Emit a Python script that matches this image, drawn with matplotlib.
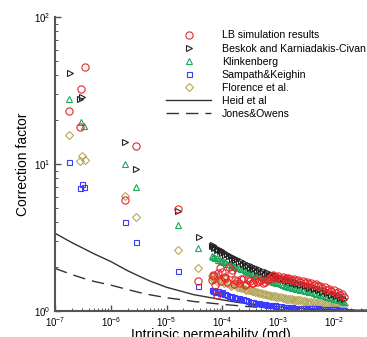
import matplotlib
matplotlib.use("Agg")
import matplotlib.pyplot as plt

plt.rcParams['font.family'] = ['Liberation Sans', 'DejaVu Sans']
plt.rcParams['mathtext.fontset'] = 'custom'
plt.rcParams['mathtext.rm'] = 'Liberation Sans'
plt.rcParams['mathtext.it'] = 'Liberation Sans:italic'

# ---------------- data ----------------
# dense region permeabilities (md), two interleaved sets
x_dense = [6.5e-5, 7e-5, 8e-5, 9e-5, 1.0e-4, 1.1e-4, 1.3e-4, 1.5e-4, 1.7e-4, 2.0e-4,
           2.3e-4, 2.7e-4, 3.1e-4, 3.6e-4, 4.2e-4, 5.0e-4, 5.8e-4, 6.8e-4, 8.0e-4, 9.3e-4,
           1.1e-3, 1.3e-3, 1.5e-3, 1.8e-3, 2.1e-3, 2.5e-3, 3.0e-3, 3.6e-3, 4.3e-3, 5.2e-3,
           6.2e-3, 7.5e-3, 9.0e-3, 1.1e-2, 1.3e-2, 1.5e-2]
x_dense2 = [6.7e-5, 7.5e-5, 8.5e-5, 9.5e-5, 1.05e-4, 1.2e-4, 1.4e-4, 1.6e-4, 1.85e-4, 2.15e-4,
            2.5e-4, 2.9e-4, 3.35e-4, 3.9e-4, 4.6e-4, 5.4e-4, 6.3e-4, 7.4e-4, 8.6e-4, 1.0e-3,
            1.2e-3, 1.4e-3, 1.65e-3, 1.95e-3, 2.3e-3, 2.75e-3, 3.3e-3, 3.9e-3, 4.7e-3, 5.7e-3,
            6.8e-3, 8.2e-3, 1.0e-2, 1.2e-2, 1.4e-2]

# LB simulation results
lb_x_sparse = [1.8e-7, 2.8e-7, 2.9e-7, 3.4e-7, 1.8e-6, 2.85e-6, 1.6e-5, 3.6e-5]
lb_y_sparse = [23.1, 17.9, 32.6, 45.8, 5.7, 13.3, 4.93, 1.6]
lb_y_dense = [1.62, 1.72, 1.28, 1.95, 1.85, 1.68, 2.0, 1.9, 1.62, 1.55,
              1.65, 1.52, 1.6, 1.55, 1.58, 1.62, 1.57, 1.66, 1.76, 1.7,
              1.66, 1.64, 1.68, 1.62, 1.6, 1.58, 1.55, 1.52, 1.50, 1.47,
              1.44, 1.40, 1.36, 1.32, 1.29, 1.25]
lb_y_dense2 = [1.75, 1.5, 1.82, 1.6, 1.7, 1.58, 1.8, 1.52, 1.6, 1.66,
               1.5, 1.62, 1.56, 1.64, 1.6, 1.55, 1.62, 1.7, 1.68, 1.72,
               1.7, 1.68, 1.66, 1.64, 1.62, 1.6, 1.57, 1.55, 1.52, 1.49,
               1.46, 1.42, 1.38, 1.34, 1.3]

# Beskok and Karniadakis-Civan
bk_x_sparse = [1.85e-7, 2.8e-7, 3.1e-7, 1.8e-6, 2.85e-6, 1.6e-5, 3.8e-5]
bk_y_sparse = [41.3, 27.5, 28.5, 14.1, 9.3, 4.8, 3.18]
bk_y_dense = [2.78, 2.70, 2.62, 2.55, 2.50, 2.42, 2.35, 2.26, 2.22, 2.14,
              2.08, 2.03, 1.97, 1.93, 1.88, 1.84, 1.79, 1.75, 1.72, 1.69,
              1.65, 1.62, 1.59, 1.56, 1.53, 1.50, 1.47, 1.44, 1.41, 1.38,
              1.35, 1.32, 1.29, 1.26, 1.23, 1.21]
bk_y_dense2 = [2.82, 2.74, 2.66, 2.60, 2.52, 2.45, 2.37, 2.30, 2.25, 2.18,
               2.12, 2.06, 2.01, 1.97, 1.92, 1.88, 1.83, 1.79, 1.76, 1.72,
               1.68, 1.65, 1.62, 1.59, 1.56, 1.53, 1.50, 1.47, 1.44, 1.41,
               1.38, 1.35, 1.31, 1.28, 1.25]

# Klinkenberg
kl_x_sparse = [1.8e-7, 2.9e-7, 3.3e-7, 1.8e-6, 2.85e-6, 1.6e-5, 3.6e-5]
kl_y_sparse = [27.7, 19.3, 18.0, 10.0, 7.0, 3.86, 2.67]
kl_y_dense = [2.38, 2.33, 2.28, 2.24, 2.20, 2.15, 2.10, 2.04, 2.0, 1.96,
              1.92, 1.87, 1.82, 1.78, 1.74, 1.70, 1.66, 1.62, 1.58, 1.55,
              1.52, 1.49, 1.46, 1.44, 1.42, 1.40, 1.37, 1.35, 1.33, 1.30,
              1.28, 1.25, 1.23, 1.20, 1.18, 1.16]
kl_y_dense2 = [2.32, 2.30, 2.22, 2.18, 2.16, 2.10, 2.05, 2.02, 1.97, 1.93,
               1.89, 1.84, 1.80, 1.76, 1.72, 1.68, 1.64, 1.60, 1.57, 1.54,
               1.50, 1.47, 1.45, 1.43, 1.41, 1.38, 1.36, 1.34, 1.31, 1.29,
               1.27, 1.24, 1.21, 1.19, 1.17]

# Sampath&Keighin
sk_x_sparse = [1.8e-7, 2.8e-7, 3.0e-7, 3.3e-7, 1.8e-6, 2.85e-6, 1.6e-5, 3.6e-5]
sk_y_sparse = [10.3, 6.86, 7.3, 6.95, 4.0, 2.94, 1.88, 1.48]
sk_y_dense = [1.38, 1.39, 1.36, 1.33, 1.34, 1.30, 1.27, 1.25, 1.23, 1.22,
              1.20, 1.18, 1.16, 1.15, 1.14, 1.12, 1.11, 1.10, 1.09, 1.08,
              1.08, 1.07, 1.06, 1.06, 1.05, 1.05, 1.05, 1.04, 1.04, 1.04,
              1.03, 1.03, 1.03, 1.03, 1.02, 1.02]
sk_y_dense2 = [1.37, 1.35, 1.37, 1.32, 1.31, 1.28, 1.26, 1.24, 1.22, 1.21,
               1.19, 1.17, 1.16, 1.14, 1.13, 1.11, 1.10, 1.09, 1.09, 1.08,
               1.07, 1.07, 1.06, 1.05, 1.05, 1.05, 1.04, 1.04, 1.04, 1.03,
               1.03, 1.03, 1.03, 1.02, 1.02]

# Florence et al.
fl_x_sparse = [1.8e-7, 2.8e-7, 3.0e-7, 3.4e-7, 1.8e-6, 2.85e-6, 1.6e-5, 3.6e-5]
fl_y_sparse = [15.8, 10.4, 11.3, 10.7, 6.1, 4.35, 2.6, 1.95]
fl_y_dense = [1.72, 1.68, 1.74, 1.62, 1.60, 1.66, 1.52, 1.50, 1.55, 1.45,
              1.43, 1.40, 1.38, 1.36, 1.34, 1.32, 1.30, 1.28, 1.27, 1.25,
              1.24, 1.22, 1.21, 1.20, 1.19, 1.18, 1.17, 1.16, 1.15, 1.14,
              1.13, 1.12, 1.11, 1.11, 1.10, 1.09]
fl_y_dense2 = [1.66, 1.70, 1.58, 1.64, 1.56, 1.54, 1.48, 1.52, 1.46, 1.44,
               1.41, 1.39, 1.37, 1.35, 1.33, 1.31, 1.29, 1.27, 1.26, 1.24,
               1.23, 1.21, 1.20, 1.19, 1.18, 1.17, 1.16, 1.15, 1.14, 1.13,
               1.12, 1.12, 1.11, 1.10, 1.09]

# Heid et al (solid)
heid_x = [1e-7, 2e-7, 3.2e-7, 5e-7, 1e-6, 2e-6, 3.4e-6, 5e-6, 1e-5, 2e-5, 3.1e-5,
          5e-5, 1e-4, 2e-4, 3.2e-4, 5e-4, 1e-3, 3e-3, 1e-2, 4e-2]
heid_y = [3.38, 2.92, 2.67, 2.45, 2.17, 1.88, 1.71, 1.60, 1.45, 1.35, 1.29,
          1.25, 1.19, 1.14, 1.12, 1.094, 1.07, 1.04, 1.02, 1.01]

# Jones&Owens (dashed)
jo_x = [1e-7, 2e-7, 3.2e-7, 5e-7, 1e-6, 2e-6, 3.4e-6, 5e-6, 1e-5, 2e-5, 3.1e-5,
        5e-5, 1e-4, 3e-4, 1e-3, 3e-3, 1e-2, 4e-2]
jo_y = [1.95, 1.77, 1.67, 1.59, 1.50, 1.40, 1.33, 1.29, 1.23, 1.19, 1.16,
        1.14, 1.11, 1.07, 1.04, 1.03, 1.02, 1.01]

labels = ["LB simulation results", "Beskok and Karniadakis-Civan", "Klinkenberg",
          "Sampath&Keighin", "Florence et al.", "Heid et al", "Jones&Owens"]

# ---------------- figure ----------------
fig = plt.figure(figsize=(3.67, 3.37), dpi=100)
ax = fig.add_axes([55 / 367, 26 / 337, 1 - 55 / 367, 294 / 337])

line_col = '#333333'
h_heid, = ax.plot(heid_x, heid_y, '-', color=line_col, lw=1.0)
h_jo, = ax.plot(jo_x, jo_y, '--', color=line_col, lw=1.0, dashes=(9, 5))

series = [
    (fl_x_sparse, fl_y_sparse, fl_y_dense, fl_y_dense2, 'D', '#b5a85a', 3.6),
    (sk_x_sparse, sk_y_sparse, sk_y_dense, sk_y_dense2, 's', '#3b3bff', 3.6),
    (kl_x_sparse, kl_y_sparse, kl_y_dense, kl_y_dense2, '^', '#1aa85a', 4.2),
    (bk_x_sparse, bk_y_sparse, bk_y_dense, bk_y_dense2, '>', '#222222', 4.2),
    (lb_x_sparse, lb_y_sparse, lb_y_dense, lb_y_dense2, 'o', '#e8262a', 5.2),
]
handles = {}
for xs, ys, yd, yd2, m, c, ms in series:
    h, = ax.plot(list(xs) + x_dense + x_dense2, list(ys) + yd + yd2, linestyle='none',
                 marker=m, mfc='none', mec=c, mew=0.8, ms=ms)
    handles[m] = h

ax.set_xscale('log')
ax.set_yscale('log')
ax.set_xlim(1e-7, 10 ** (-7 + 312 / 55.8))
ax.set_ylim(1, 100)

for s in ['top', 'right']:
    ax.spines[s].set_visible(False)
for s in ['left', 'bottom']:
    ax.spines[s].set_color('#555555')
    ax.spines[s].set_linewidth(1.5)

ax.set_xticks([1e-7, 1e-6, 1e-5, 1e-4, 1e-3, 1e-2])
ax.tick_params(which='major', direction='in', length=4, width=1.0, color='#555555',
               labelsize=7, pad=3)
ax.tick_params(which='minor', direction='in', length=2.5, width=0.7, color='#555555')

ax.set_ylabel('Correction factor', fontsize=10, labelpad=3)
ax.set_xlabel('Intrinsic permeability (md)', fontsize=10, labelpad=-1)

leg = fig.legend([handles['o'], handles['>'], handles['^'], handles['s'], handles['D'], h_heid, h_jo],
                 labels, loc='upper left', bbox_to_anchor=(166 / 367, 1 - 30.5 / 337),
                 frameon=False, fontsize=7.6, handlelength=4.3, handletextpad=1.0,
                 labelspacing=0.29, borderpad=0, borderaxespad=0, numpoints=1)

fig.savefig('out.png', dpi=100)
